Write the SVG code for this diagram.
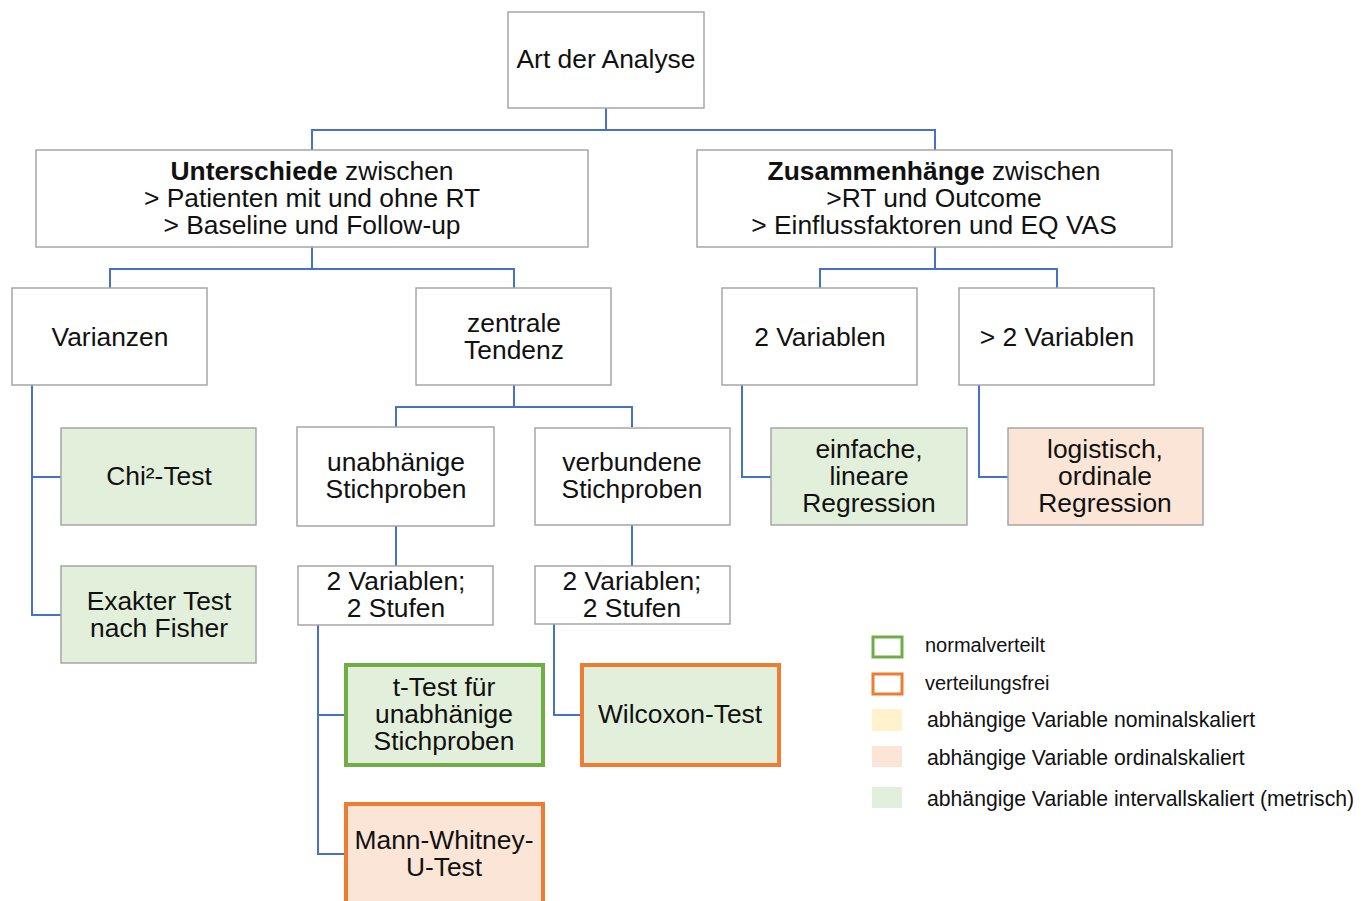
<svg xmlns="http://www.w3.org/2000/svg" width="1367" height="901" viewBox="0 0 1367 901">
<style>
.box{fill:#ffffff;stroke:#a6a6a6;stroke-width:1.5}
.g{fill:#e2efda}
.p{fill:#fbe5d6}
.y{fill:#fff2cc}
.sg{stroke:#70ad47;stroke-width:4}
.so{stroke:#ed7d31;stroke-width:4}
text{font-family:"Liberation Sans",Arial,sans-serif;font-size:26.4px;fill:#111;text-anchor:middle}
.lg{font-size:20px;text-anchor:start}
.lg2{font-size:21.2px;text-anchor:start}
.c{fill:none;stroke:#4472c4;stroke-width:2}
</style>
<rect width="1367" height="901" fill="#ffffff"/>
<g id="connectors">
<path class="c" d="M606,108V130M312,150V130H935V150"/>
<path class="c" d="M312,247V269M110,288V269H514V288"/>
<path class="c" d="M935,247V269M820,288V269H1057V288"/>
<path class="c" d="M32,385V615H61M32,477H61"/>
<path class="c" d="M514,385V407M396,427V407H632V427"/>
<path class="c" d="M396,526V566M632,525V566"/>
<path class="c" d="M318,625V854H346M318,715H346"/>
<path class="c" d="M554,624V715H582"/>
<path class="c" d="M742,385V477H771"/>
<path class="c" d="M979,385V477H1008"/>
</g>
<g id="n-art"><rect class="box" x="508" y="12" width="196" height="96"/><text x="606" y="68">Art der Analyse</text></g>
<g id="n-unterschiede"><rect class="box" x="36" y="150" width="552" height="97"/>
<text x="312" y="180"><tspan font-weight="bold">Unterschiede</tspan> zwischen<tspan x="312" dy="27">&gt; Patienten mit und ohne RT</tspan><tspan x="312" dy="27">&gt; Baseline und Follow-up</tspan></text></g>
<g id="n-zusammenhaenge"><rect class="box" x="697" y="150" width="475" height="97"/>
<text x="934" y="180"><tspan font-weight="bold">Zusammenhänge</tspan> zwischen<tspan x="934" dy="27">&gt;RT und Outcome</tspan><tspan x="934" dy="27">&gt; Einflussfaktoren und EQ VAS</tspan></text></g>
<g id="n-varianzen"><rect class="box" x="12" y="288" width="195" height="97"/><text x="110" y="346">Varianzen</text></g>
<g id="n-zentrale"><rect class="box" x="416" y="288" width="195" height="97"/><text x="514" y="332">zentrale<tspan x="514" dy="27">Tendenz</tspan></text></g>
<g id="n-2var"><rect class="box" x="722" y="288" width="195" height="97"/><text x="820" y="346">2 Variablen</text></g>
<g id="n-gt2var"><rect class="box" x="959" y="288" width="195" height="97"/><text x="1057" y="346">&gt; 2 Variablen</text></g>
<g id="n-chi"><rect class="box g" x="61" y="428" width="195" height="97"/><text x="159" y="485">Chi²-Test</text></g>
<g id="n-fisher"><rect class="box g" x="61" y="566" width="195" height="97"/><text x="159" y="610">Exakter Test<tspan x="159" dy="27">nach Fisher</tspan></text></g>
<g id="n-unabh"><rect class="box" x="297" y="427" width="197" height="99"/><text x="396" y="471">unabhänige<tspan x="396" dy="27">Stichproben</tspan></text></g>
<g id="n-verb"><rect class="box" x="535" y="428" width="195" height="97"/><text x="632" y="471">verbundene<tspan x="632" dy="27">Stichproben</tspan></text></g>
<g id="n-2v2s-a"><rect class="box" x="298" y="566" width="195" height="59"/><text x="396" y="590">2 Variablen;<tspan x="396" dy="27">2 Stufen</tspan></text></g>
<g id="n-2v2s-b"><rect class="box" x="535" y="566" width="195" height="58"/><text x="632" y="590">2 Variablen;<tspan x="632" dy="27">2 Stufen</tspan></text></g>
<g id="n-ttest"><rect class="g sg" x="346" y="665" width="197" height="100"/><text x="444" y="696">t-Test für<tspan x="444" dy="27">unabhänige</tspan><tspan x="444" dy="27">Stichproben</tspan></text></g>
<g id="n-wilcoxon"><rect class="g so" x="582" y="665" width="197" height="100"/><text x="680" y="723">Wilcoxon-Test</text></g>
<g id="n-mann"><rect class="p so" x="346" y="804" width="197" height="104"/><text x="444" y="849">Mann-Whitney-<tspan x="444" dy="27">U-Test</tspan></text></g>
<g id="n-linreg"><rect class="box g" x="771" y="428" width="196" height="97"/><text x="869" y="458">einfache,<tspan x="869" dy="27">lineare</tspan><tspan x="869" dy="27">Regression</tspan></text></g>
<g id="n-logreg"><rect class="box p" x="1008" y="428" width="195" height="97"/><text x="1105" y="458">logistisch,<tspan x="1105" dy="27">ordinale</tspan><tspan x="1105" dy="27">Regression</tspan></text></g>
<g id="legend">
<rect x="873" y="637" width="29" height="20" fill="#ffffff" stroke="#70ad47" stroke-width="3"/>
<text class="lg" x="925" y="652">normalverteilt</text>
<rect x="873" y="674" width="29" height="20" fill="#ffffff" stroke="#ed7d31" stroke-width="3"/>
<text class="lg" x="925" y="690">verteilungsfrei</text>
<rect x="872" y="709" width="30" height="22" fill="#fff2cc"/>
<text class="lg2" x="927" y="727">abhängige Variable nominalskaliert</text>
<rect x="872" y="746" width="30" height="21" fill="#fbe5d6"/>
<text class="lg2" x="927" y="765">abhängige Variable ordinalskaliert</text>
<rect x="872" y="787" width="30" height="21" fill="#e2efda"/>
<text class="lg2" x="927" y="806">abhängige Variable intervallskaliert (metrisch)</text>
</g>
</svg>
